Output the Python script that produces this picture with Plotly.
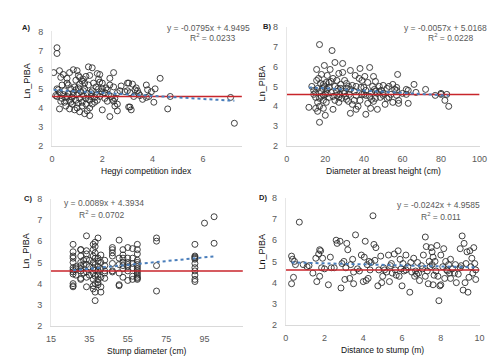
import plotly.graph_objects as go

W, H = 502, 361

# ---------------- data ----------------
a_x = [0.2,0.2,0.07,0.3,0.35,0.45,0.6,0.7,0.85,1.0,1.05,1.2,1.35,1.45,1.6,1.5,1.3,1.8,1.9,1.85,2.0,2.3,2.45,2.3,2.45,2.6,2.75,3.0,3.05,3.2,3.35,3.3,3.0,3.1,2.9,3.75,3.8,3.95,4.1,4.3,3.75,3.85,4.05,4.6,4.7,7.1,7.25,3.6,3.1,3.05,3.15,2.6,2.3,2.5,2.45,2.6,2.0,1.5,1.4,1.5,1.3,1.1,0.9,0.7,0.3,0.55,0.8,1.0,1.2,1.6,1.8,2.1,2.25,0.2,0.3,0.4,0.5,0.5,0.6,0.65,0.7,0.75,0.8,0.85,0.9,0.95,1.0,1.05,1.1,1.15,1.2,1.25,1.3,1.35,1.4,1.45,1.5,1.55,1.6,1.7,1.75,1.8,1.85,1.9,1.95,2.0,2.1,2.2,2.35,2.4,2.5,2.7,0.25,0.15,0.35,0.45,0.55,0.65,0.75,0.85,0.95,1.05,1.1,1.25,1.35,1.45,1.55,1.65,1.7,0.95,1.1,1.25,0.6,0.4,0.2,1.9,2.15,2.2,3.4,3.45,3.25,3.5]
a_y = [7.15,6.85,5.85,5.95,5.6,5.75,5.55,5.85,6.0,5.95,5.7,5.4,5.65,6.15,6.1,5.7,5.3,5.8,5.75,5.5,5.3,5.55,5.85,5.2,5.1,4.8,5.15,5.3,5.3,5.25,5.05,4.95,4.9,4.8,4.85,5.2,4.95,4.85,5.0,5.55,4.55,4.6,4.3,3.95,4.6,4.55,3.2,4.45,4.05,4.05,3.9,3.85,3.55,4.1,4.35,4.2,3.9,3.6,3.85,4.0,3.7,3.8,3.9,3.95,3.95,4.1,4.2,4.0,4.1,4.2,4.4,4.5,4.7,4.6,4.8,4.5,4.9,4.3,4.6,4.75,4.4,5.0,4.55,4.8,5.1,4.4,4.7,5.05,4.5,4.85,4.3,4.65,5.0,4.5,4.75,5.2,4.4,4.6,4.9,4.55,5.1,4.7,5.0,4.6,4.85,5.0,4.8,4.95,4.6,4.45,4.5,4.9,4.95,4.65,4.35,4.7,4.55,5.2,4.3,4.65,4.95,4.25,5.25,4.9,4.2,4.45,4.8,5.3,4.3,5.45,5.6,5.5,5.3,5.2,5.0,5.35,5.05,4.35,4.9,4.75,4.6,4.65]

b_x = [11.5,13,14,15,15,15.5,15.5,16,16,16,16.5,17,17,17,17.5,17.5,18,18,18.5,19,19,19,19.5,19.5,20,20,20.5,20.5,21,21,22,22,22.5,23,23,23.5,24,24,25,25,26,26,26.5,27,27,27.5,28,28.5,29,29,29.5,30,30.5,31,31,32,32.5,33,33,34,34,35,35.5,36,36,37,37.5,38,38,38.5,39,40,40.5,41,41,42,42,43,43,43.5,44,44.5,45,45,45.5,46,46,47,47,48,48.5,49,50,50,51,52,52,53,54,55,55,56,57,57,57.5,58,58,60,62,63,63,66,67,72,77,80,80,82,83,84,14,21,25,30,35,40,44,48,53,15,17,19,26,28,31,24,32,36,41,46,50,57,62,22,27,33,39]
b_y = [3.95,5.0,4.6,3.9,4.45,5.3,5.85,3.75,4.2,4.9,5.4,3.2,7.1,4.0,4.75,5.15,4.5,5.6,4.9,3.9,4.3,4.55,6.05,5.0,3.55,4.6,4.2,5.2,5.55,4.85,5.2,4.45,5.85,5.25,4.7,6.8,3.85,5.4,6.2,4.3,4.55,5.3,4.9,5.65,4.2,4.6,5.1,4.4,6.15,5.7,4.75,5.3,4.5,4.9,4.35,5.0,4.6,3.65,5.8,4.1,5.05,4.75,5.55,3.85,4.55,4.0,5.4,5.9,4.3,4.95,5.3,4.6,5.5,3.6,4.8,4.15,5.2,5.95,4.5,3.9,4.7,5.0,4.25,5.5,4.85,4.4,5.25,3.85,4.65,5.0,4.45,4.8,5.05,4.55,4.1,4.9,4.4,5.0,4.6,5.1,4.2,4.85,4.8,4.95,5.6,4.3,4.15,4.65,4.85,4.15,4.8,5.1,4.7,4.85,4.55,4.65,4.6,4.3,4.6,4.0,4.8,4.65,5.0,4.65,4.3,4.95,4.35,4.75,4.45,4.7,4.4,5.1,4.75,4.9,5.15,4.5,4.25,5.0,4.55,4.75,4.65,4.55,4.6,4.95,4.45,4.85,4.6]

c_x = [26.5]*12 + [28]*3 + [30.5]*9 + [32]*3 + [33.5]*8 + [35]*3 + [37]*9 + [38]*10 + [39.5]*9 + [41]*6 + [43]*5 + [47]*7 + [50.5]*6 + [52.5]*7 + [55]*7 + [57.5]*6 + [60]*14 + [70]*4 + [90]*11 + [95] + [100]*2
c_y = [5.85,5.5,5.3,5.2,5.0,4.75,4.65,4.55,4.45,4.0,3.9,3.85,
       4.8,4.4,4.7,
       5.6,5.6,5.3,5.0,4.85,4.7,4.6,4.25,4.2,
       4.9,4.5,5.1,
       6.25,5.55,5.4,5.15,4.9,4.55,4.3,3.85,
       4.8,5.1,4.4,
       5.85,5.6,5.3,5.0,4.75,4.5,4.2,3.9,3.75,
       5.95,5.75,5.45,5.2,4.9,4.65,4.35,4.0,3.6,3.2,
       6.15,5.2,5.05,4.8,4.6,4.4,4.2,4.05,3.95,
       5.35,5.0,4.7,4.3,3.85,3.6,
       5.1,4.85,4.6,4.5,4.25,
       5.7,5.6,5.45,5.3,4.95,4.6,4.55,
       6.05,5.2,4.9,3.95,3.9,4.5,
       5.6,5.35,5.2,5.0,4.85,4.7,4.3,
       5.7,5.2,5.0,4.9,4.8,4.6,4.15,
       5.65,5.2,4.95,4.75,4.35,4.2,
       5.85,5.6,5.4,5.1,5.0,4.9,4.8,4.7,4.6,4.5,4.4,4.3,4.25,4.2,
       6.15,6.0,4.85,3.65,
       5.85,5.3,5.25,5.2,5.15,4.95,4.75,4.6,4.4,4.2,4.1,
       6.85,
       7.15,5.9]

d_x = [0.3,0.35,0.3,0.4,0.5,0.45,0.7,0.9,1.1,1.4,1.55,1.6,1.7,1.75,1.8,1.75,1.85,1.9,2.0,2.2,2.3,2.35,2.6,2.65,2.8,2.85,2.9,3.0,3.05,3.1,3.15,3.2,3.3,3.35,3.45,3.5,3.5,3.6,3.7,3.9,4.0,4.05,4.1,4.15,4.2,4.25,4.3,4.4,4.5,4.55,4.6,4.65,4.75,4.8,4.9,4.95,5.0,5.05,5.1,5.2,5.3,5.35,5.4,5.5,5.6,5.65,5.7,5.8,5.85,5.9,6.0,6.05,6.1,6.2,6.3,6.4,6.45,6.5,6.6,6.65,6.7,6.8,6.85,6.9,7.0,7.1,7.2,7.2,7.25,7.3,7.35,7.4,7.45,7.5,7.55,7.6,7.6,7.65,7.7,7.75,7.8,7.85,7.9,7.95,8.0,8.0,8.1,8.15,8.2,8.3,8.35,8.4,8.5,8.5,8.6,8.7,8.8,8.9,9.0,9.05,9.1,9.15,9.2,9.25,9.3,9.35,9.4,9.45,9.5,9.55,9.6,9.65,9.7,9.75,9.8,9.8,8.25,7.05,6.75,5.95,5.45,4.35,3.8,2.5,1.2,8.45,9.0,7.55,8.75,6.2]
d_y = [5.25,5.1,3.95,4.25,4.85,5.0,6.85,4.85,4.75,4.45,5.15,4.05,5.35,5.55,5.5,4.3,4.7,5.15,4.65,3.9,5.2,4.7,6.0,5.85,5.95,3.75,4.9,5.0,4.15,4.7,5.85,5.55,4.2,4.85,5.1,4.5,3.95,6.25,4.65,5.3,4.05,5.2,5.95,4.1,4.85,4.2,5.0,4.95,7.15,5.8,5.05,5.65,3.85,4.6,5.25,4.0,4.3,4.7,4.6,4.5,5.3,4.05,4.8,4.45,5.35,4.6,4.35,5.5,4.3,5.1,3.85,4.9,4.55,5.3,4.75,3.55,4.95,4.5,5.15,4.3,4.55,4.95,4.45,4.1,4.8,5.3,6.15,4.3,5.7,4.55,3.95,5.0,4.75,5.65,5.45,5.2,3.9,4.35,5.0,4.55,5.75,4.3,3.15,3.85,3.9,5.3,4.75,5.6,4.2,4.6,4.55,4.85,5.1,4.2,4.65,4.45,4.0,4.4,5.6,4.8,6.2,3.65,5.85,4.0,4.9,5.45,3.55,4.25,5.5,4.75,5.15,4.45,5.65,4.9,4.15,4.6,5.0,4.65,4.4,4.65,4.9,4.6,4.55,4.7,4.8,4.45,4.7,4.85,4.85,4.6]

panels = [
    dict(name="A)", x=a_x, y=a_y, slope=-0.0795, icpt=4.9495, r2="0.0233",
         eq="y = -0.0795x + 4.9495", xtitle="Hegyi competition index",
         xrange=[0, 7.55], xtick=[0, 2, 4, 6], yrange=[2, 8],
         box=(40, 235, 19, 137), mean=4.6),
    dict(name="B)", x=b_x, y=b_y, slope=-0.0057, icpt=5.0168, r2="0.0228",
         eq="y = -0.0057x + 5.0168", xtitle="Diameter at breast height (cm)",
         xrange=[0, 100], xtick=[0, 20, 40, 60, 80, 100], yrange=[2, 8],
         box=(281, 479, 14, 137), mean=4.6),
    dict(name="C)", x=c_x, y=c_y, slope=0.0089, icpt=4.3934, r2="0.0702",
         eq="y = 0.0089x + 4.3934", xtitle="Stump diameter (cm)",
         xrange=[15, 115], xtick=[15, 35, 55, 75, 95], yrange=[2, 8],
         box=(39, 236, 191, 322), mean=4.6),
    dict(name="D)", x=d_x, y=d_y, slope=-0.0242, icpt=4.9585, r2="0.011",
         eq="y = -0.0242x + 4.9585", xtitle="Distance to stump (m)",
         xrange=[0, 10], xtick=[0, 2, 4, 6, 8, 10], yrange=[2, 8],
         box=(280, 479, 190, 321), mean=4.6),
]

FONT = "Liberation Sans, Arial, sans-serif"
GREY = "#595959"


def px(v):
    return v / W


def py(v):
    return 1 - v / H


fig = go.Figure()
layout = dict(width=W, height=H, margin=dict(l=0, r=0, t=0, b=0),
              paper_bgcolor="white", plot_bgcolor="white", showlegend=False,
              font=dict(family=FONT, size=9, color=GREY))
annotations = []
eq_pos = {
    "A)": [(245, 15, "right"), (205, 25, "center")],
    "B)": [(489, 15, "right"), (449, 25, "center")],
    "C)": [(50, 195, "left"), (91, 207, "center")],
    "D)": [(481, 197, "right"), (439, 209, "center")],
}
lab_pos = {"A)": (13, 15), "B)": (261, 14), "C)": (15, 191), "D)": (257, 190)}
ytitle_x = {"A)": 14, "B)": 256, "C)": 14, "D)": 256}
ytitle_y = {"A)": 70, "B)": 72, "C)": 245, "D)": 245}

for i, p in enumerate(panels):
    k = "" if i == 0 else str(i + 1)
    xa, ya = "x" + k, "y" + k
    x0, x1, y0, y1 = p["box"]
    layout["xaxis" + k] = dict(domain=[px(x0), px(x1)], range=p["xrange"], anchor=ya,
                               tickvals=p["xtick"], showgrid=False, zeroline=False,
                               showline=True, linecolor="#D9D9D9", linewidth=1,
                               ticks="", ticklabelstandoff=4,
                               tickfont=dict(size=9, color=GREY, family=FONT))
    layout["yaxis" + k] = dict(domain=[py(y1), py(y0)], range=p["yrange"], anchor=xa,
                               tickvals=[2, 3, 4, 5, 6, 7, 8], showgrid=False, zeroline=False,
                               showline=True, linecolor="#E6E6E6", linewidth=1,
                               ticks="", ticklabelstandoff=6,
                               tickfont=dict(size=9, color=GREY, family=FONT))
    fig.add_trace(go.Scatter(x=p["x"], y=p["y"], mode="markers", xaxis=xa, yaxis=ya,
                             marker=dict(symbol="circle-open", size=6, color="#2E2E2E",
                                         line=dict(color="#2E2E2E", width=0.9)),
                             hoverinfo="skip"))
    # mean line
    fig.add_trace(go.Scatter(x=p["xrange"], y=[p["mean"], p["mean"]], mode="lines",
                             xaxis=xa, yaxis=ya, line=dict(color="#C8252B", width=1.5),
                             hoverinfo="skip"))
    # trend line
    xmin, xmax = min(p["x"]), max(p["x"])
    fig.add_trace(go.Scatter(x=[xmin, xmax],
                             y=[p["slope"] * xmin + p["icpt"], p["slope"] * xmax + p["icpt"]],
                             mode="lines", xaxis=xa, yaxis=ya,
                             line=dict(color="#4A7EBB", width=2, dash="dot"),
                             hoverinfo="skip"))
    (ex, ey, ea), (rx, ry, ra) = eq_pos[p["name"]]
    annotations.append(dict(x=px(ex), y=py(ey), xref="paper", yref="paper", text=p["eq"],
                            showarrow=False, xanchor=ea, yanchor="middle",
                            font=dict(size=8.5, color=GREY, family=FONT)))
    annotations.append(dict(x=px(rx), y=py(ry), xref="paper", yref="paper",
                            text="R<sup>2</sup> = " + p["r2"],
                            showarrow=False, xanchor=ra, yanchor="middle",
                            font=dict(size=8.5, color=GREY, family=FONT)))
    lx, ly = lab_pos[p["name"]]
    annotations.append(dict(x=px(lx), y=py(ly), xref="paper", yref="paper",
                            text="<b>" + p["name"] + "</b>", showarrow=False,
                            xanchor="center", yanchor="middle",
                            font=dict(size=7.5, color="#222222", family=FONT)))
    annotations.append(dict(x=px(ytitle_x[p["name"]]), y=py(ytitle_y[p["name"]]), xref="paper",
                            yref="paper", text="Ln_PIBA", textangle=-90, showarrow=False,
                            xanchor="center", yanchor="middle",
                            font=dict(size=9, color="#111111", family=FONT)))
    annotations.append(dict(x=px((x0 + x1) / 2), y=py(y1 + 26), xref="paper", yref="paper",
                            text=p["xtitle"], showarrow=False, xanchor="center",
                            yanchor="middle",
                            font=dict(size=8.5, color="#111111", family=FONT)))

layout["annotations"] = annotations
fig.update_layout(**layout)
fig.write_html("out.html")
